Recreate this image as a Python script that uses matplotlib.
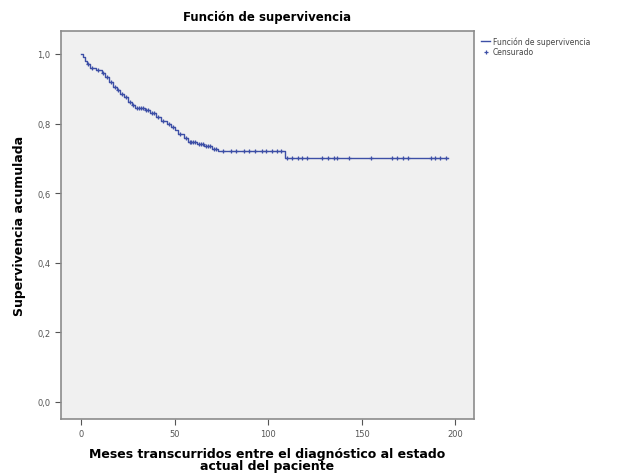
import numpy as np
import matplotlib.pyplot as plt

# Kaplan-Meier step values
event_times = [0, 1, 2, 3, 5, 8, 11, 13, 15, 17, 19, 21, 23, 25, 27, 29, 34, 37,
               40, 43, 46, 48, 50, 52, 55, 57, 62, 66, 70, 73, 109]
survival = [1.0, 0.99, 0.98, 0.97, 0.96, 0.955, 0.945, 0.935, 0.92, 0.905, 0.895,
            0.885, 0.875, 0.862, 0.852, 0.845, 0.838, 0.83, 0.818, 0.808, 0.80,
            0.79, 0.78, 0.77, 0.758, 0.748, 0.742, 0.735, 0.728, 0.722, 0.70]
last_time = 196

censored = [4, 6, 9, 12, 14, 16, 18, 20, 22, 24, 26, 28, 30, 31, 32, 33, 35, 36,
            38, 39, 41, 44, 47, 49, 53, 56, 58, 59, 60, 61, 63, 64, 65, 67, 68, 69,
            71, 72, 76, 80, 83, 87, 90, 93, 97, 99, 102, 105, 107,
            110, 113, 116, 118, 121, 129, 132, 135, 137, 143, 155,
            166, 169, 172, 175, 187, 189, 192, 195]

xticks = [0, 50, 100, 150, 200]
yticks = [0.0, 0.2, 0.4, 0.6, 0.8, 1.0]
ytick_labels = ['0,0', '0,2', '0,4', '0,6', '0,8', '1,0']

blue = '#3d4fa6'

fig = plt.figure(figsize=(6.26, 4.77), dpi=100)
ax = fig.add_axes([0.0974, 0.1195, 0.6596, 0.8135])
ax.set_facecolor('#f0f0f0')

t = event_times + [last_time]
s = survival + [survival[-1]]
ax.step(t, s, where='post', color=blue, lw=1.0, label='Función de supervivencia')

idx = np.searchsorted(event_times, censored, side='right') - 1
cy = np.array(survival)[idx]
ax.plot(censored, cy, ls='none', marker='+', ms=3.5, mew=0.9, color=blue, label='Censurado')

ax.set_xlim(-10.7, 210)
ax.set_ylim(-0.049, 1.066)
ax.set_xticks(xticks)
ax.set_yticks(yticks)
ax.set_yticklabels(ytick_labels)
ax.tick_params(labelsize=6, colors='#555555', length=4, width=0.8)
for sp in ax.spines.values():
    sp.set_color('#8c8c8c')
    sp.set_linewidth(1.2)

ax.set_title('Función de supervivencia', fontsize=8.5, fontweight='bold', pad=8)
ax.set_xlabel('Meses transcurridos entre el diagnóstico al estado\nactual del paciente',
              fontsize=9, fontweight='bold', labelpad=6, linespacing=0.95)
ax.set_ylabel('Supervivencia acumulada', fontsize=9, fontweight='bold', labelpad=8)

ax.legend(loc='upper left', bbox_to_anchor=(1.005, 1.0), frameon=False,
          fontsize=5.5, handlelength=1.2, handletextpad=0.3, labelspacing=0.2,
          borderaxespad=0.3, labelcolor='#444444')

fig.savefig('out.png', dpi=100)
